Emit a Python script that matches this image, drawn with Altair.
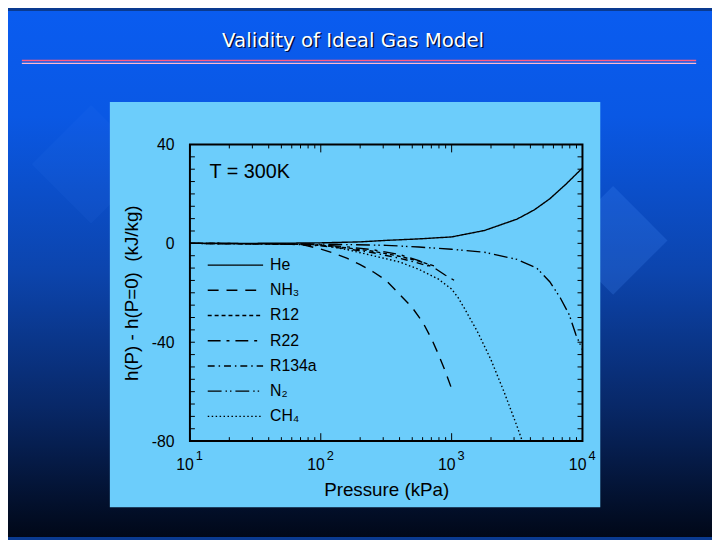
import altair as alt
import pandas as pd

# ---------------- data ----------------
gases = ["He", "NH₃", "R12", "R22", "R134a", "N₂", "CH₄"]
dashes = [[1, 0], [11, 8], [4, 3], [13, 6, 3, 6], [7, 4, 1.5, 4], [14, 4, 1.5, 3, 1.5, 4], [1.5, 2.5]]

he_p = [10, 30, 60, 100, 200, 316, 560, 1000, 1780, 3160, 4270, 5620, 7500, 10000]
he_h = [0, 0, 0.1, 0.2, 0.6, 1.2, 1.8, 2.6, 5.2, 9.8, 13.5, 18, 24, 30.5]

nh3_p = [10, 30, 60, 76, 100, 126, 158, 200, 251, 316, 398, 500, 603, 708, 794, 891, 1000]
nh3_h = [0, -0.1, -0.4, -0.8, -2.3, -4, -6, -8.6, -11.5, -15, -20.5, -26, -32, -39, -45, -51.5, -58.8]

r12_p = [10, 60, 100, 158, 251, 398, 562, 741]
r12_h = [0, -0.3, -0.8, -1.8, -3.2, -5.2, -7.2, -9.2]

r22_p = [10, 60, 100, 158, 251, 398, 562, 741, 891, 1050]
r22_h = [0, -0.2, -0.6, -1.4, -2.6, -4.5, -7, -10, -12.8, -15]

r134a_p = [10, 60, 100, 158, 251, 398, 525, 708]
r134a_h = [0, -0.3, -1.0, -2.2, -3.8, -6.0, -7.6, -9.6]

n2_p = [10, 100, 316, 562, 1000, 1780, 3160, 4470, 5620, 6760, 7940, 8910, 10000]
n2_h = [0, -0.3, -0.8, -1.5, -2.4, -3.6, -6.5, -10, -15.5, -22, -29, -37, -43]

ch4_p = [10, 60, 100, 158, 251, 398, 562, 794, 1000, 1122, 1259, 1585, 1995, 2512, 3162, 3467]
ch4_h = [0, -0.3, -0.6, -2.5, -5, -7.5, -10.5, -14.5, -18.5, -22, -26.5, -36, -47, -60, -74, -80]

x_major = [10, 100, 1000, 10000]
x_exp = ["1", "2", "3", "4"]
x_minor = [m * d for d in (10, 100, 1000) for m in range(2, 10)]
y_ticks = list(range(-80, 41, 5))
y_labels = [-80, -40, 0, 40]

title_text = "Validity of Ideal Gas Model"
note_text = "T = 300K"
note_p, note_h = 14.1, 28.8

# ---------------- tables ----------------
series = [he_p, nh3_p, r12_p, r22_p, r134a_p, n2_p, ch4_p]
values = [he_h, nh3_h, r12_h, r22_h, r134a_h, n2_h, ch4_h]
rows = []
for g, ps, hs in zip(gases, series, values):
    for p, h in zip(ps, hs):
        rows.append({"gas": g, "P": p, "h": h})
curves_df = pd.DataFrame(rows)
major_df = pd.DataFrame({"P": x_major, "exp": x_exp})
minor_df = pd.DataFrame({"P": x_minor})
yt_df = pd.DataFrame({"h": y_ticks})
note_df = pd.DataFrame({"P": [note_p], "h": [note_h], "t": [note_text]})
one = alt.Data(values=[{}])

W, H = 397, 300
PL, PT = 184, 135
TOTAL_W, TOTAL_H = 712, 532

xs = alt.Scale(type="log", domain=[10, 10000], nice=False)
ys = alt.Scale(domain=[-80, 40], nice=False, zero=False)
FONT = "Liberation Sans"
YTITLE = "h(P) - h(P=0) \u00a0(kJ/kg)"

xaxis = alt.Axis(
    title="Pressure (kPa)", labels=False, ticks=False, domain=False, grid=False, zindex=1,
    titlePadding=40, titleFont=FONT, titleFontSize=19, titleFontWeight="normal", titleColor="black")
yaxis = alt.Axis(
    title=YTITLE, values=y_labels, ticks=False, domain=False, grid=False, zindex=1,
    labelExpr="datum.value < 0 ? '-' + abs(datum.value) : '' + datum.value",
    labelPadding=16, labelFont=FONT, labelFontSize=16, labelColor="black",
    titlePadding=10, titleFont=FONT, titleFontSize=19, titleFontWeight="normal", titleColor="black")

X = lambda: alt.X("P:Q", scale=xs, axis=xaxis, title="Pressure (kPa)")
Y = lambda: alt.Y("h:Q", scale=ys, axis=yaxis, title=YTITLE)

# ---------------- decorative slide background ----------------
bg = alt.Chart(one).mark_rect(
    fill=alt.Gradient(
        gradient="linear",
        stops=[
            alt.GradientStop(color="#0a5cf0", offset=0),
            alt.GradientStop(color="#0a58e4", offset=0.2),
            alt.GradientStop(color="#0c44ac", offset=0.5),
            alt.GradientStop(color="#082868", offset=0.75),
            alt.GradientStop(color="#010818", offset=1),
        ],
        x1=0, x2=0, y1=0, y2=1,
    )
).encode(x=alt.value(-PL), x2=alt.value(TOTAL_W - PL), y=alt.value(-PT), y2=alt.value(TOTAL_H - PT))

deco = alt.Chart(one).mark_point(shape="diamond", filled=True, size=12100, color="#4a90ff", opacity=0.2).encode(
    x=alt.value(428), y=alt.value(97))
deco2 = alt.Chart(one).mark_point(shape="diamond", filled=True, size=14400, color="#4a90ff", opacity=0.07).encode(
    x=alt.value(-100), y=alt.value(20))

line1 = alt.Chart(one).mark_rule(color="#ff5c84", strokeWidth=1.6).encode(
    x=alt.value(-170), x2=alt.value(512), y=alt.value(-85))
line2 = alt.Chart(one).mark_rule(color="#ffb8cc", strokeWidth=1.2).encode(
    x=alt.value(-170), x2=alt.value(512), y=alt.value(-82))

title_shadow = alt.Chart(one).mark_text(
    text=title_text, font="DejaVu Sans", fontSize=20, color="#001040", align="center", baseline="middle"
).encode(x=alt.value(166.5), y=alt.value(-103.5))
title = alt.Chart(one).mark_text(
    text=title_text, font="DejaVu Sans", fontSize=20, color="white", align="center", baseline="middle"
).encode(x=alt.value(165), y=alt.value(-105))

panel = alt.Chart(one).mark_rect(fill="#6ccdfb").encode(
    x=alt.value(-81), x2=alt.value(415), y=alt.value(-43), y2=alt.value(367))

frame = alt.Chart(one).mark_rect(fill=None, stroke="black", strokeWidth=2).encode(
    x=alt.value(0), x2=alt.value(W), y=alt.value(0), y2=alt.value(H))

# ---------------- ticks (inward) ----------------
def xrule(df, y0, y1):
    return alt.Chart(df).mark_rule(color="black", strokeWidth=1).encode(
        x=X(), y=alt.value(y0), y2=alt.value(y1))

def yrule(df, x0, x1):
    return alt.Chart(df).mark_rule(color="black", strokeWidth=1).encode(
        y=Y(), x=alt.value(x0), x2=alt.value(x1))

ticks = [
    xrule(major_df, H, H - 8), xrule(major_df, 0, 8),
    xrule(minor_df, H, H - 4), xrule(minor_df, 0, 4),
    yrule(yt_df, 0, 5), yrule(yt_df, W - 5, W),
]

xlab_base = alt.Chart(major_df).mark_text(
    text="10", font=FONT, fontSize=16, color="black", align="right", baseline="middle", dx=4
).encode(x=X(), y=alt.value(H + 24))
xlab_exp = alt.Chart(major_df).mark_text(
    font=FONT, fontSize=13, color="black", align="left", baseline="middle", dx=6
).encode(x=X(), y=alt.value(H + 15), text="exp:N")

# ---------------- curves ----------------
curves = alt.Chart(curves_df).mark_line(color="black", strokeWidth=1.4, clip=True).encode(
    x=X(),
    y=Y(),
    strokeDash=alt.StrokeDash("gas:N", sort=gases, scale=alt.Scale(domain=gases, range=dashes),
        legend=alt.Legend(
            orient="none", legendX=17, legendY=112, title=None, symbolType="stroke", symbolSize=3136,
            symbolStrokeWidth=1.4, symbolStrokeColor="black", labelFont=FONT, labelFontSize=16,
            labelColor="black", labelOffset=6, clipHeight=20, rowPadding=5.5, padding=0, symbolOffset=0)),
    detail="gas:N",
)

note = alt.Chart(note_df).mark_text(font=FONT, fontSize=20, color="black", align="left", baseline="middle").encode(
    x=X(), y=Y(), text="t:N")

chart = alt.layer(
    bg, deco, deco2, line1, line2, title_shadow, title, panel,
    curves, *ticks, frame, xlab_base, xlab_exp, note,
).properties(
    width=W, height=H,
    padding={"left": PL, "top": PT, "right": TOTAL_W - PL - W, "bottom": TOTAL_H - PT - H},
    autosize=alt.AutoSizeParams(type="none"),
    background="#0a3a90",
).configure_view(stroke=None)

chart.save("out.html", embed_options={"renderer": "svg", "actions": False})
